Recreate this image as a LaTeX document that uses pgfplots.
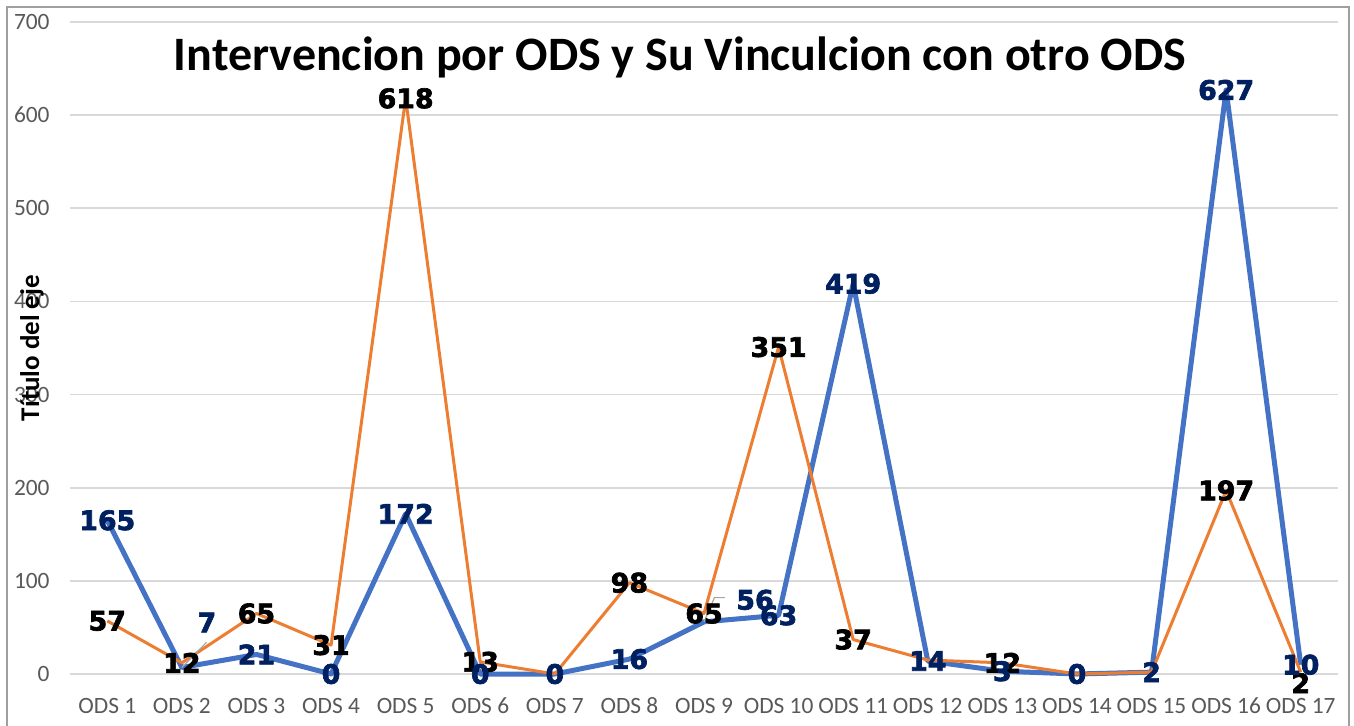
\documentclass[border=0pt]{standalone}
\usepackage{pgfplots}
\pgfplotsset{compat=1.18}
\usepackage{pgfplotstable}
\usepackage{fontspec}
\setmainfont{Carlito}
\newfontfamily\labfont{DejaVu Sans}[BoldFeatures={FakeBold=2.5}]
\definecolor{cblue}{HTML}{4472C4}
\definecolor{corange}{HTML}{ED7D31}
\definecolor{cnavy}{HTML}{002060}
\definecolor{ctick}{HTML}{595959}
\definecolor{cgrid}{HTML}{D9D9D9}
\pgfplotstableread{
x blue orange
1 165 57
2 7 12
3 21 65
4 0 31
5 172 618
6 0 13
7 0 0
8 16 98
9 56 65
10 63 351
11 419 37
12 14 15
13 3 12
14 0 0
15 2 2
16 627 197
17 10 2
}\datatab
\begin{document}
\begin{tikzpicture}
\begin{axis}[
  at={(0,0)}, anchor=south west,
  scale only axis,
  width=634pt, height=326pt,
  xmin=0.5, xmax=17.5, ymin=0, ymax=700,
  axis line style={draw=none},
  ymajorgrids, grid style={cgrid, line width=0.8pt},
  xtick={1,...,17},
  xticklabels={ODS 1,ODS 2,ODS 3,ODS 4,ODS 5,ODS 6,ODS 7,ODS 8,ODS 9,ODS 10,ODS 11,ODS 12,ODS 13,ODS 14,ODS 15,ODS 16,ODS 17},
  ytick={0,100,...,700},
  major tick length=0pt, tick style={draw=none},
  /pgf/number format/assume math mode=true,
  xticklabel style={font=\fontsize{11.7}{13}\selectfont, text=ctick, anchor=base, yshift=-19.5pt},
  yticklabel style={font=\fontsize{11.7}{13}\selectfont, text=ctick, anchor=east, inner sep=0pt, xshift=-10pt},
  clip=false,
]
\addplot[cblue, line width=2.5pt, line join=round, mark=none] table[x=x, y=blue] {\datatab};
\addplot[corange, line width=1.5pt, line join=round, mark=none] table[x=x, y=orange] {\datatab};
% leader lines
\draw[gray!70, line width=0.6pt] (axis cs:2,7) -- (axis cs:2.33,34);
\draw[gray!70, line width=0.6pt] (axis cs:9,56) -- (axis cs:9.14,82) -- (axis cs:9.28,82);
% orange labels
\addplot[draw=none, mark=none, nodes near coords, point meta=explicit symbolic,
  every node near coord/.append style={font=\labfont\bfseries\fontsize{13.4}{15}\selectfont, text=black, anchor=center, inner sep=0pt}]
 coordinates {(1,57)[57] (2,12)[12] (3,65)[65] (4,31)[31] (5,618)[618] (6,13)[13] (8,98)[98] (9,65)[65] (10,351)[351] (11,37)[37] (13,12)[12] (16,197)[197]};
\addplot[draw=none, mark=none, nodes near coords, point meta=explicit symbolic,
  every node near coord/.append style={font=\labfont\bfseries\fontsize{13.4}{15}\selectfont, text=black, anchor=center, inner sep=0pt, yshift=-5.5pt}]
 coordinates {(17,2)[2]};
% blue labels
\addplot[draw=none, mark=none, nodes near coords, point meta=explicit symbolic,
  every node near coord/.append style={font=\labfont\bfseries\fontsize{13.4}{15}\selectfont, text=cnavy, anchor=center, inner sep=0pt}]
 coordinates {(1,165)[165] (3,21)[21] (4,0)[0] (5,172)[172] (6,0)[0] (7,0)[0] (8,16)[16] (10,63)[63] (11,419)[419] (12,14)[14] (13,3)[3] (14,0)[0] (15,2)[2] (16,627)[627] (17,10)[10]};
\addplot[draw=none, mark=none, nodes near coords, point meta=explicit symbolic,
  every node near coord/.append style={font=\labfont\bfseries\fontsize{13.4}{15}\selectfont, text=cnavy, anchor=center, inner sep=0pt, xshift=12.5pt, yshift=22.5pt}]
 coordinates {(2,7)[7]};
\addplot[draw=none, mark=none, nodes near coords, point meta=explicit symbolic,
  every node near coord/.append style={font=\labfont\bfseries\fontsize{13.4}{15}\selectfont, text=cnavy, anchor=center, inner sep=0pt, xshift=25.5pt, yshift=11pt}]
 coordinates {(9,56)[56]};
% title and axis label
\node[font=\bfseries\fontsize{24}{28}\selectfont, anchor=center] at (axis description cs:0.481,0.945) {Intervencion por ODS y Su Vinculcion con otro ODS};
\node[font=\bfseries\fontsize{13.5}{16}\selectfont, rotate=90, anchor=center] at (axis description cs:-0.03,0.5) {Título del eje};
\end{axis}
\draw[gray!75, line width=0.8pt] (-31.5pt,-60pt) -- (-31.5pt,333.5pt) -- (639.5pt,333.5pt) -- (639.5pt,-60pt);
\pgfresetboundingbox
\path[use as bounding box] (-35pt,-25.5pt) rectangle (642pt,337pt);
\end{tikzpicture}
\end{document}
